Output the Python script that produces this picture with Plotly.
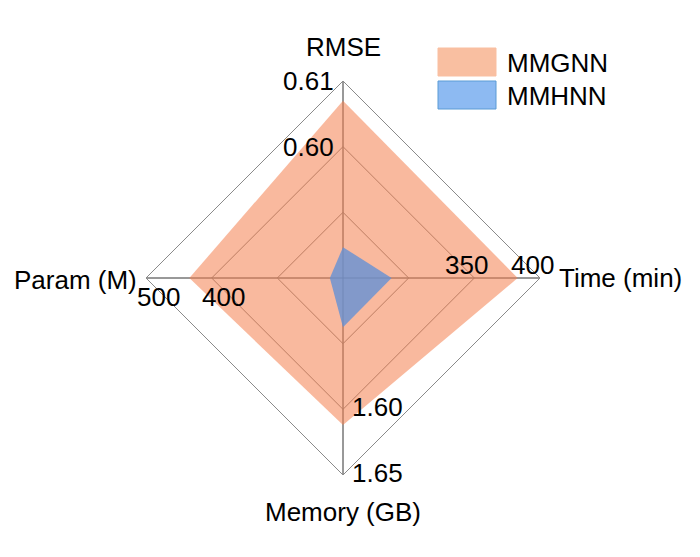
import plotly.graph_objects as go

W, H = 700, 557
OFF = 8  # page body margin in the browser shot

# axes of the radar, clockwise from the top
axes = ["RMSE", "Time (min)", "Memory (GB)", "Param (M)"]
axis_min = [0.58, 250, 1.50, 200]   # value at the centre
axis_max = [0.61, 400, 1.65, 500]   # value at the outer vertex
axis_ticks = [["0.60", "0.61"], ["350", "400"], ["1.60", "1.65"], ["400", "500"]]

mmgnn = [0.607, 383, 1.612, 434]
mmhnn = [0.5847, 287, 1.5375, 220]


def norm(vals):
    return [(v - lo) / (hi - lo) for v, lo, hi in zip(vals, axis_min, axis_max)]


def to_paper(x, y):
    return (x - OFF) / W, 1 - (y - OFF) / H


# polar placement in screen pixels
cx, cy, R = 343, 278, 197
x0, y0 = to_paper(cx - R, cy + R)
x1, y1 = to_paper(cx + R, cy - R)

font = "Arial, Liberation Sans, sans-serif"

fig = go.Figure()
fig.add_trace(go.Scatterpolar(
    r=norm(mmgnn), theta=axes, fill="toself", name="MMGNN",
    fillcolor="rgba(244,128,78,0.55)", line=dict(width=0), mode="lines",
    hoverinfo="skip"))
fig.add_trace(go.Scatterpolar(
    r=norm(mmhnn), theta=axes, fill="toself", name="MMHNN",
    fillcolor="rgba(100,145,212,0.8)", line=dict(width=0), mode="lines",
    hoverinfo="skip"))

fig.update_layout(
    width=W, height=H,
    margin=dict(l=0, r=0, t=0, b=0),
    paper_bgcolor="white",
    showlegend=False,
    font=dict(family=font, size=26, color="black"),
    polar=dict(
        domain=dict(x=[x0, x1], y=[y0, y1]),
        bgcolor="white",
        gridshape="linear",
        angularaxis=dict(direction="clockwise", rotation=90,
                         showticklabels=False, ticks="",
                         showline=True, linecolor="#8a8a8a", linewidth=1,
                         gridcolor="#333333", gridwidth=1),
        radialaxis=dict(range=[0, 1], tickvals=[1 / 3, 2 / 3],
                        showticklabels=False, ticks="", showline=False,
                        gridcolor="#7a7a7a", gridwidth=1),
    ),
)

anns = []
# axis titles
for text, (x, y), xa in [("RMSE", (343, 47), "center"),
                          ("Time (min)", (557, 278), "left"),
                          ("Memory (GB)", (343, 512), "center"),
                          ("Param (M)", (139, 280), "right")]:
    px, py = to_paper(x, y)
    anns.append(dict(x=px, y=py, text=text, xanchor=xa, yanchor="middle"))

# tick labels, placed from each axis scale
for i, ticks in enumerate(axis_ticks):
    for t in ticks:
        frac = (float(t) - axis_min[i]) / (axis_max[i] - axis_min[i])
        d = frac * R
        if i == 0:
            x, y, xa = cx - 7, cy - d, "right"
        elif i == 1:
            x, y, xa = cx + d - 8, cy - 13, "center"
        elif i == 2:
            x, y, xa = cx + 7, cy + d - 2, "left"
        else:
            x, y, xa = cx - d + 12, cy + 19, "center"
        px, py = to_paper(x, y)
        anns.append(dict(x=px, y=py, text=t, xanchor=xa, yanchor="middle"))

# legend
shapes = []
for name, color, border, top in [("MMGNN", "#F9BFA1", "#F9BFA1", 48),
                                  ("MMHNN", "#8DBAF2", "#5B9BD5", 81)]:
    ax0, ay0 = to_paper(438, top + 28)
    ax1, ay1 = to_paper(496, top)
    shapes.append(dict(type="rect", xref="paper", yref="paper",
                       x0=ax0, x1=ax1, y0=ay0, y1=ay1,
                       fillcolor=color, line=dict(color=border, width=1)))
    px, py = to_paper(505, top + 15)
    anns.append(dict(x=px, y=py, text=name, xanchor="left", yanchor="middle"))

for a in anns:
    a.update(xref="paper", yref="paper", showarrow=False)
fig.update_layout(annotations=anns, shapes=shapes)

fig.write_html("out.html")
